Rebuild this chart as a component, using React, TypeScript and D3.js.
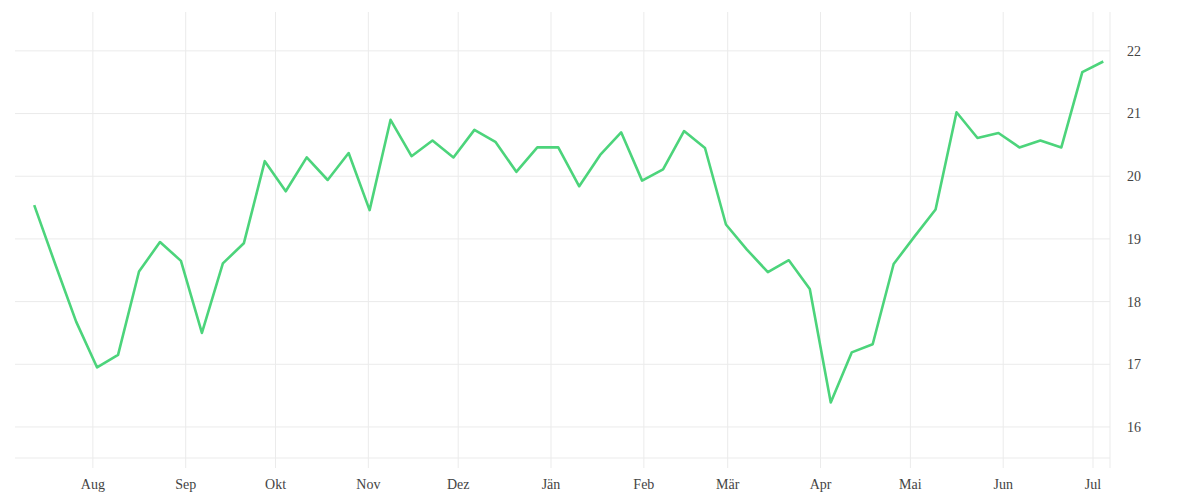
import React from "react";
import * as d3 from "d3";

const startDate = new Date(2022, 6, 12, 10);
const values: number[] = [
  19.54, 18.6, 17.68, 16.95, 17.15, 18.48, 18.95, 18.65, 17.5, 18.61, 18.93,
  20.24, 19.76, 20.3, 19.94, 20.37, 19.46, 20.9, 20.32, 20.57, 20.3, 20.74,
  20.55, 20.07, 20.46, 20.46, 19.84, 20.34, 20.7, 19.93, 20.11, 20.72, 20.45,
  19.23, 18.83, 18.47, 18.66, 18.2, 16.39, 17.19, 17.32, 18.6, 19.04, 19.47,
  21.02, 20.61, 20.69, 20.46, 20.57, 20.46, 21.66, 21.83,
];
const yTicks: number[] = [16, 17, 18, 19, 20, 21, 22];
const monthLabels: string[] = ["Aug", "Sep", "Okt", "Nov", "Dez", "Jän", "Feb", "Mär", "Apr", "Mai", "Jun", "Jul"];
const monthDates: Date[] = monthLabels.map((_, i) => new Date(2022, 7 + i, 1));

const W = 1200;
const H = 500;
const left = 15;
const right = 1110;
const top = 12;
const bottom = 458;

export default function App() {
  const dates = values.map((_, i) => d3.timeHour.offset(startDate, i * 7 * 24));
  const x = d3
    .scaleTime()
    .domain([new Date(2022, 6, 6), new Date(2023, 6, 6, 16)])
    .range([left, right]);
  const y = d3.scaleLinear().domain([15.505, 22.62]).range([bottom, top]);
  const line = d3
    .line<number>()
    .x((_, i) => x(dates[i]))
    .y((d) => y(d));
  const grid = "#ebebeb";
  const font = "'Liberation Serif', serif";
  return (
    <svg width={W} height={H} style={{ position: "absolute", left: 0, top: 0, background: "#fff" }}>
      {yTicks.map((t) => (
        <line key={"h" + t} x1={left} x2={right} y1={y(t)} y2={y(t)} stroke={grid} strokeWidth={1} />
      ))}
      <line x1={left} x2={right} y1={bottom} y2={bottom} stroke={grid} strokeWidth={1} />
      {monthDates.map((d, i) => (
        <line key={"v" + i} x1={x(d)} x2={x(d)} y1={top} y2={bottom + 10} stroke={grid} strokeWidth={1} />
      ))}
      <line x1={right} x2={right} y1={top} y2={bottom + 10} stroke={grid} strokeWidth={1} />
      <path d={line(values) || ""} fill="none" stroke="#4cd47b" strokeWidth={2.6} strokeLinejoin="round" />
      {yTicks.map((t) => (
        <text key={"yl" + t} x={1127} y={y(t)} dy="0.35em" fontSize={14} fontFamily={font} fill="#444">
          {t}
        </text>
      ))}
      {monthDates.map((d, i) => (
        <text key={"xl" + i} x={x(d)} y={489} textAnchor="middle" fontSize={14} fontFamily={font} fill="#444">
          {monthLabels[i]}
        </text>
      ))}
    </svg>
  );
}
